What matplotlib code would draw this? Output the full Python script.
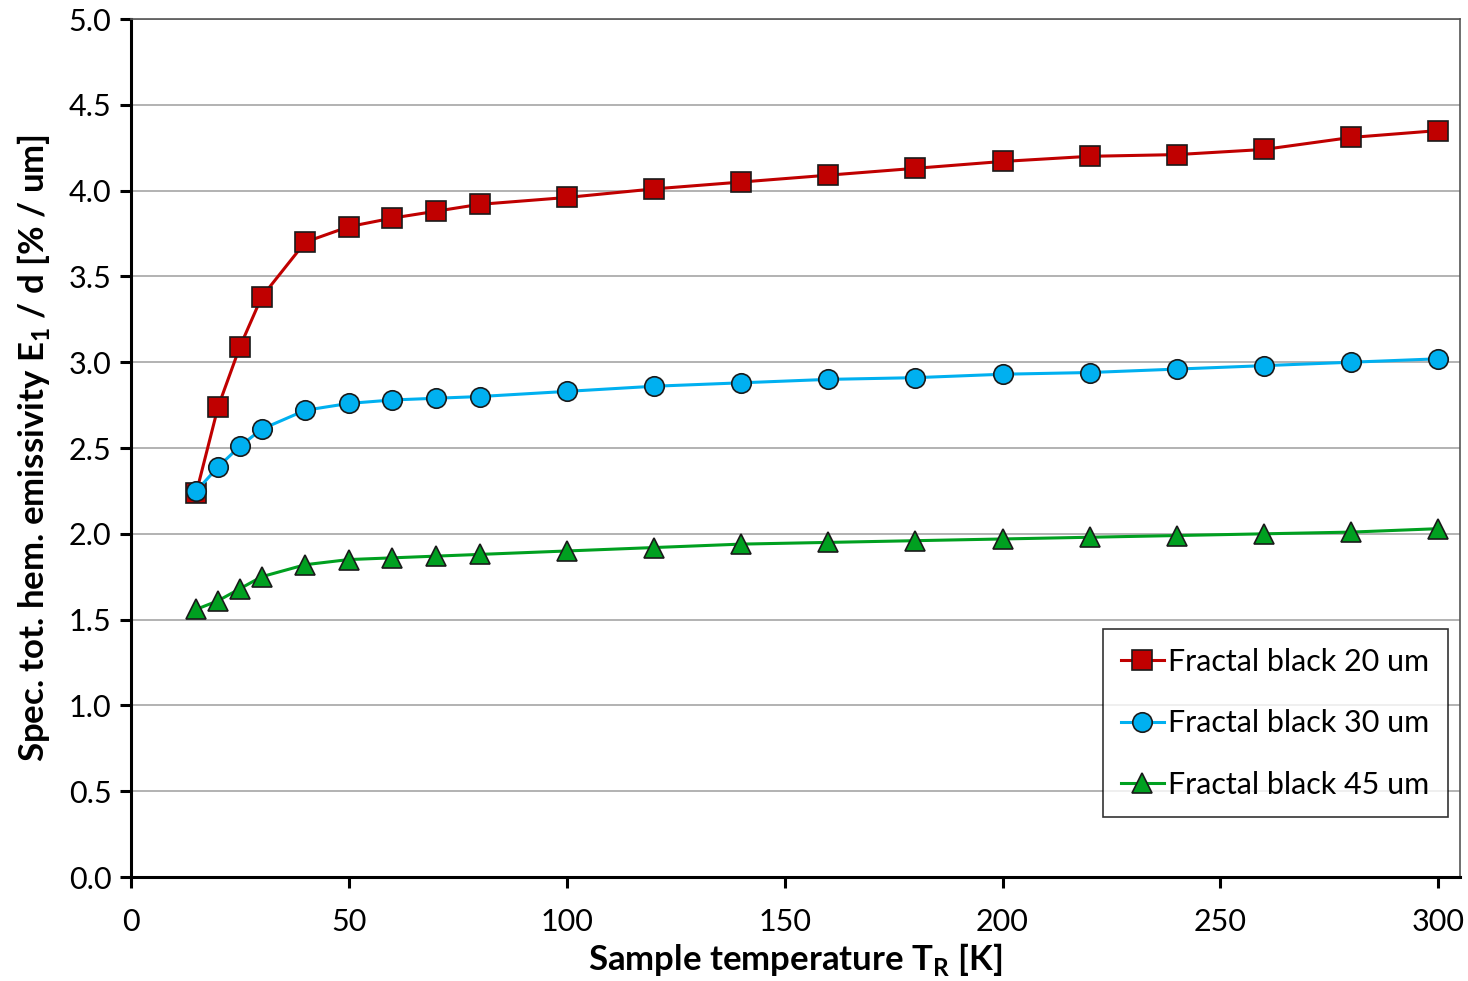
import matplotlib
matplotlib.use("Agg")
import matplotlib.pyplot as plt

# --- Data ---
temperature = [15, 20, 25, 30, 40, 50, 60, 70, 80, 100, 120, 140, 160, 180,
               200, 220, 240, 260, 280, 300]

fb_20um = [2.24, 2.74, 3.09, 3.38, 3.70, 3.79, 3.84, 3.88, 3.92, 3.96, 4.01,
           4.05, 4.09, 4.13, 4.17, 4.20, 4.21, 4.24, 4.31, 4.35]
fb_30um = [2.25, 2.39, 2.51, 2.61, 2.72, 2.76, 2.78, 2.79, 2.80, 2.83, 2.86,
           2.88, 2.90, 2.91, 2.93, 2.94, 2.96, 2.98, 3.00, 3.02]
fb_45um = [1.56, 1.61, 1.68, 1.75, 1.82, 1.85, 1.86, 1.87, 1.88, 1.90, 1.92,
           1.94, 1.95, 1.96, 1.97, 1.98, 1.99, 2.00, 2.01, 2.03]

series_labels = ["Fractal black 20 um", "Fractal black 30 um", "Fractal black 45 um"]

# --- Style ---
FONT = "Lato"
plt.rcParams["font.family"] = [FONT, "DejaVu Sans"]
plt.rcParams["mathtext.fontset"] = "custom"
plt.rcParams["mathtext.rm"] = FONT
plt.rcParams["mathtext.bf"] = FONT + ":bold"

SERIES = [
    (fb_20um, series_labels[0], "#C00000", "s"),
    (fb_30um, series_labels[1], "#00B0F0", "o"),
    (fb_45um, series_labels[2], "#00A020", "^"),
]

fig = plt.figure(figsize=(14.68, 9.81), dpi=100)
ax = fig.add_axes([0.0892, 0.106, 0.9054, 0.8746])

for values, label, color, marker in SERIES:
    ax.plot(temperature, values, color=color, linewidth=2.2, marker=marker,
            markersize=14 if marker != "^" else 15, markerfacecolor=color,
            markeredgecolor="#1a1a1a", markeredgewidth=1.2, label=label,
            zorder=3)

ax.set_xlim(0, 305)
ax.set_ylim(0, 5)
ax.set_xticks(range(0, 301, 50))
ax.set_yticks([i * 0.5 for i in range(11)])
ax.yaxis.set_major_formatter(matplotlib.ticker.FormatStrFormatter("%.1f"))

ax.yaxis.grid(True, color="#a6a6a6", linewidth=1.2)
ax.set_axisbelow(True)

for side in ["left", "bottom"]:
    ax.spines[side].set_linewidth(2.2)
    ax.spines[side].set_color("black")
for side in ["right", "top"]:
    ax.spines[side].set_linewidth(1.2)
    ax.spines[side].set_color("#555555")

ax.tick_params(axis="both", direction="out", length=8, width=2.2,
               labelsize=22, colors="black", pad=6)
ax.tick_params(axis="x", pad=14)
ax.tick_params(top=False, right=False)

ax.set_xlabel(r"Sample temperature T$_\mathbf{R}$ [K]", fontsize=25,
              fontweight="bold", labelpad=4)
ax.set_ylabel(r"Spec. tot. hem. emissivity E$_\mathbf{1}$ / d [% / um]",
              fontsize=25, fontweight="bold", labelpad=12)

leg = ax.legend(loc="lower right", bbox_to_anchor=(0.9909, 0.0695),
                fontsize=22, frameon=True, fancybox=False, borderpad=0.6,
                labelspacing=1.1, handlelength=1.4, handletextpad=0.15,
                borderaxespad=0)
leg.get_frame().set_edgecolor("black")
leg.get_frame().set_linewidth(1.2)

fig.savefig("out.png", dpi=100)
